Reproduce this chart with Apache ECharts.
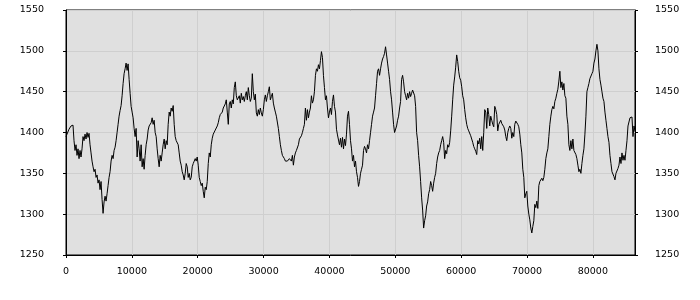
<!DOCTYPE html>
<html>
<head>
<meta charset="utf-8">
<script src="https://cdn.jsdelivr.net/npm/echarts@6/dist/echarts.min.js"></script>
<style>html,body{margin:0;padding:0;background:#fff}#c{width:700px;height:300px}</style>
</head>
<body>
<div id="c"></div>
<script>
// Time span of the series, in seconds (one day)
const X_MIN = 0;
const X_MAX = 86400;
const X_TICK = 10000;
const Y_MIN = 1250;
const Y_MAX = 1550;
const Y_TICK = 50;

// Readings, evenly spaced over the day
const values = [
1395,1398,1397,1404,1402,1408,1406,1409,1390,1378,
1385,1372,1380,1368,1378,1370,1380,1395,1390,1398,
1392,1400,1394,1399,1385,1375,1365,1358,1352,1355,
1345,1348,1338,1342,1330,1340,1318,1301,1315,1322,
1316,1325,1335,1345,1352,1365,1372,1368,1378,1382,
1390,1400,1410,1420,1427,1433,1445,1460,1472,1478,
1485,1476,1484,1465,1448,1432,1425,1418,1405,1395,
1405,1370,1390,1380,1365,1385,1358,1368,1355,1372,
1385,1392,1403,1408,1410,1412,1418,1410,1415,1400,
1395,1380,
1368,1358,1372,1365,1375,1385,1392,1380,1390,1385,
1410,1425,1420,1430,1426,1433,1410,1395,1390,1392,
1385,1375,
1365,1360,1352,1348,1342,1350,1362,1358,1345,1350,
1342,1345,1358,1362,1365,1368,1365,1370,1360,1345,
1340,1335,1338,1328,1320,1333,1330,1340,1362,1375,
1370,1385,1393,1398,1400,1403,1405,1408,1412,1418,
1422,1420,1425,1430,1428,1435,1440,1425,1410,1435,
1438,1430,1440,1435,1455,1462,1445,1440,1438,1445,
1436,1448,1440,1444,1438,1445,1450,1440,1455,1445,
1438,1442,
1472,1450,1440,1447,1424,1420,1428,1422,1430,1424,
1420,1428,1440,1446,1438,1445,1450,1456,1440,1444,
1448,1436,1430,1425,1420,1418,1405,1395,1385,1378,
1372,1370,1368,1365,1366,1365,1367,1368,1370,1365,
1372,1360,1370,1375,1378,1380,1385,1392,1390,1396,
1400,1405,1410,1430,1415,1428,1418,1425,1430,1445,
1436,1440,1450,1470,1478,1475,1483,1478,1488,1499,
1492,1470,1455,1440,1445,1430,1418,1425,1430,1422,
1438,1446,1432,1425,1404,1397,1395,1385,1393,1382,
1394,1380,1392,1384,1398,1420,
1426,1410,1390,1380,1365,1372,1358,1365,1352,1345,
1334,1340,1350,1355,1360,1378,1383,1380,1375,1385,
1380,1390,1400,1410,1420,1425,1430,1445,1460,1475,
1478,1470,1478,1485,1490,1493,1497,1505,1495,1485,
1475,1465,1450,1440,1425,1410,1400,1398,1408,1415,
1420,1430,1438,1465,1470,1462,1450,1445,1440,1448,
1442,1450,1444,1448,1452,1452,1445,1432,1400,1390,
1372,1358,1340,1320,1305,1283,1292,1298,1310,1315,
1325,1330,1340,1335,1328,1338,1345,1350,1362,1370,
1375,1378,1385,1390,1395,
1388,1368,1378,1374,1385,1382,1388,1402,1420,1440,
1458,1468,1480,1495,1487,1475,1467,1464,1456,1445,
1440,1428,1418,1410,1405,1402,1400,1396,1395,1388,
1383,1380,1377,1373,1390,1386,1393,1380,1395,1378,
1400,1428,1425,1405,1430,1422,1408,1420,1415,1410,
1407,1432,1428,1422,1402,1410,1412,1415,1411,1410,
1407,1403,1395,1390,1400,1405,1408,1405,1393,1400,
1395,1410,1414,1416,1410,1407,1398,1385,1375,1355,
1345,1320,1325,1328,1310,1300,1293,1283,1277,1285,
1292,1312,1308,1316,
1307,1335,1340,1338,1344,1341,1345,1355,1368,1375,
1380,1395,1410,1420,1428,1432,1429,1438,1442,1448,
1453,1463,1475,1455,1462,1452,1460,1445,1442,1420,
1410,
1385,1378,1390,1380,1392,1378,1380,1373,1368,1360,
1352,1355,1350,1362,1372,1380,1398,1420,1450,1455,
1460,1466,1468,1472,1475,1485,1490,1500,1508,1500,
1478,1465,1458,1450,1442,1438,1425,1415,1405,1395,
1388,1372,1362,1352,1350,1346,1342,1350,1348,1356,
1360,1370,1362,1375,1366,1372,1366,1378,1390,1408,
1410,1418,1420,1419,1395,1408,1402
];

const step = (X_MAX - X_MIN) / (values.length - 1);
const seriesData = values.map((v, i) => [X_MIN + i * step, v]);

const FONT = 'DejaVu Sans';
const plain = v => String(v);
const labelStyle = { color: '#000', fontFamily: FONT, fontSize: 9.5, formatter: plain };

const chart = echarts.init(document.getElementById('c'), null, { renderer: 'canvas' });
chart.setOption({
  animation: false,
  backgroundColor: '#ffffff',
  grid: {
    left: 66, right: 65, top: 10, bottom: 45,
    show: true, backgroundColor: '#e0e0e0', borderColor: '#000', borderWidth: 1
  },
  xAxis: {
    type: 'value', min: X_MIN, max: X_MAX, interval: X_TICK,
    axisLine: { show: true, onZero: false, lineStyle: { color: '#000' } },
    axisTick: { show: true, length: 3, lineStyle: { color: '#000' } },
    axisLabel: Object.assign({ margin: 12, showMaxLabel: false }, labelStyle),
    splitLine: { show: true, lineStyle: { color: '#cfcfcf', width: 1 } }
  },
  yAxis: [
    {
      type: 'value', position: 'left', min: Y_MIN, max: Y_MAX, interval: Y_TICK,
      axisLine: { show: true, lineStyle: { color: '#000' } },
      axisTick: { show: true, length: 3, lineStyle: { color: '#000' } },
      axisLabel: Object.assign({ margin: 22 }, labelStyle),
      splitLine: { show: true, lineStyle: { color: '#cfcfcf', width: 1 } }
    },
    {
      type: 'value', position: 'right', min: Y_MIN, max: Y_MAX, interval: Y_TICK,
      axisLine: { show: true, lineStyle: { color: '#000' } },
      axisTick: { show: true, length: 3, lineStyle: { color: '#000' } },
      axisLabel: Object.assign({ margin: 20 }, labelStyle),
      splitLine: { show: false }
    }
  ],
  series: [{
    type: 'line', yAxisIndex: 0, data: seriesData,
    showSymbol: false, symbol: 'none',
    lineStyle: { color: '#000', width: 1 },
    z: 5
  }]
});
</script>
</body>
</html>
